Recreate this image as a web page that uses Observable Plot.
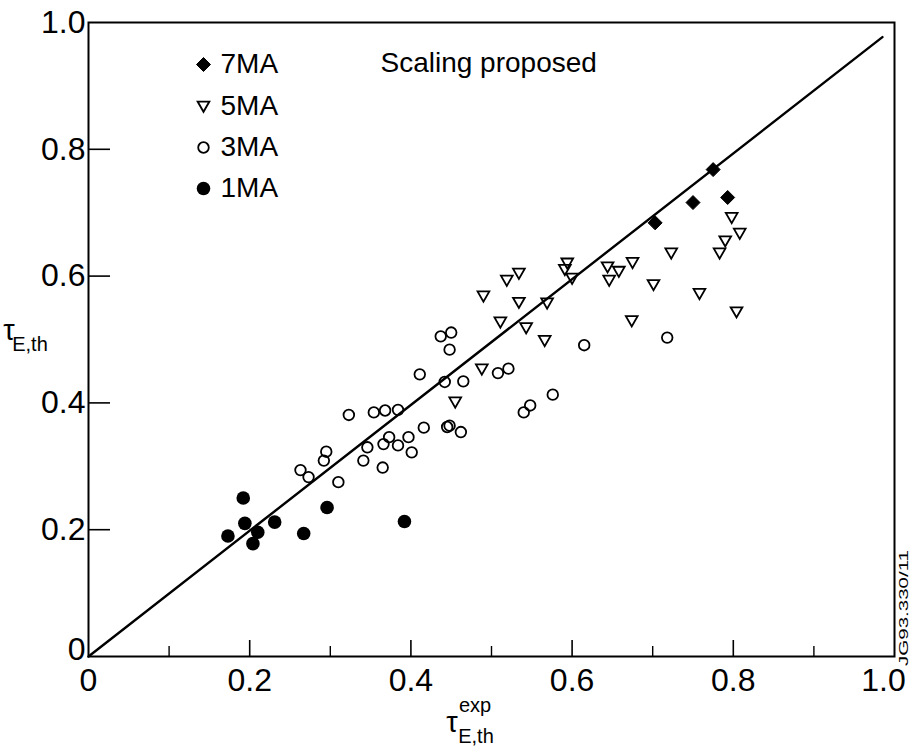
<!DOCTYPE html>
<html><head><meta charset="utf-8">
<script src="https://cdn.jsdelivr.net/npm/d3@7"></script>
<script src="https://cdn.jsdelivr.net/npm/@observablehq/plot@0.6"></script>
<style>
body{margin:0;background:#fff}
#chart{width:910px;height:748px}
</style>
</head><body><div id="chart"></div>
<script>
// ---- data ----
const seriesNames = ["7MA", "5MA", "3MA", "1MA"];
const titleText = "Scaling proposed";
const ma7 = [[0.703,0.684],[0.750,0.716],[0.775,0.768],[0.793,0.724]];
const ma5 = [[0.455,0.401],[0.488,0.453],[0.490,0.568],[0.511,0.527],[0.519,0.593],[0.534,0.604],[0.534,0.558],[0.543,0.518],[0.566,0.498],[0.569,0.557],[0.591,0.610],[0.594,0.620],[0.600,0.596],[0.644,0.614],[0.646,0.593],[0.658,0.607],[0.675,0.621],[0.674,0.529],[0.701,0.586],[0.723,0.636],[0.758,0.572],[0.783,0.636],[0.790,0.655],[0.798,0.692],[0.808,0.667],[0.804,0.543]];
const ma3 = [[0.263,0.294],[0.273,0.283],[0.292,0.309],[0.295,0.323],[0.310,0.275],[0.323,0.381],[0.341,0.309],[0.346,0.330],[0.354,0.385],[0.365,0.298],[0.366,0.335],[0.368,0.388],[0.373,0.346],[0.384,0.389],[0.384,0.333],[0.397,0.346],[0.401,0.322],[0.411,0.445],[0.416,0.361],[0.437,0.505],[0.450,0.511],[0.448,0.484],[0.442,0.433],[0.445,0.362],[0.448,0.364],[0.462,0.354],[0.465,0.434],[0.508,0.447],[0.521,0.454],[0.540,0.385],[0.548,0.396],[0.576,0.413],[0.615,0.491],[0.718,0.503]];
const ma1 = [[0.192,0.250],[0.194,0.210],[0.173,0.190],[0.210,0.196],[0.204,0.178],[0.231,0.212],[0.267,0.194],[0.296,0.235],[0.392,0.213]];
const fitLine = [[0,0],[0.985,0.977]];
const xTickValues = [0, 0.2, 0.4, 0.6, 0.8, 1.0];
const xTickLabels = ["0", "0.2", "0.4", "0.6", "0.8", "1.0"];
const xMinorTicks = [0.1, 0.3, 0.5, 0.7, 0.9];
const yTickValues = [0, 0.2, 0.4, 0.6, 0.8, 1.0];
const yTickLabels = ["0", "0.2", "0.4", "0.6", "0.8", "1.0"];
const stampText = "JG93.330/11";

// ---- layout ----
const W = 910, H = 748, mL = 88, mR = 16, mT = 22, mB = 92;
const pw = W - mL - mR, ph = H - mT - mB;
const FONT = "'Liberation Sans', Arial, Helvetica, sans-serif";

const diamondSym = {draw(ctx, size){ const r = Math.sqrt(size/Math.PI);
  ctx.moveTo(0,-r); ctx.lineTo(r,0); ctx.lineTo(0,r); ctx.lineTo(-r,0); ctx.closePath(); }};
const downTri = {draw(ctx, size){ const r = Math.sqrt(size/Math.PI);
  ctx.moveTo(-r*1.05,-r*0.88); ctx.lineTo(r*1.05,-r*0.88); ctx.lineTo(0,r*0.95); ctx.closePath(); }};

const lab = (vals, labels) => d => labels[vals.findIndex(v => Math.abs(v - d) < 1e-9)];
const fmtX = lab(xTickValues, xTickLabels);
const fmtY = lab(yTickValues, yTickLabels);

const legendRows = [42, 84, 125, 166];
const legendSyms = [
  {symbol: diamondSym, r: 7, fill: "black", stroke: "black", strokeWidth: 1},
  {symbol: downTri, r: 5.6, fill: "none", stroke: "black", strokeWidth: 1.8},
  {symbol: "circle", r: 5.3, fill: "none", stroke: "black", strokeWidth: 1.8},
  {symbol: "circle", r: 6.8, fill: "black", stroke: "none"}
];

const xFirst = xTickValues.slice(0, -1), xLast = xTickValues.slice(-1);
const yFirst = yTickValues.slice(0, 1), yRest = yTickValues.slice(1);

const marks = [
  Plot.ruleX(xTickValues.slice(1, -1), {x: d => d, y1: 0, y2: 16/ph, strokeWidth: 1.6}),
  Plot.ruleX(xMinorTicks, {x: d => d, y1: 0, y2: 10/ph, strokeWidth: 1.4}),
  Plot.ruleY(yTickValues.slice(1, -1), {y: d => d, x1: 0, x2: 22/pw, strokeWidth: 1.6}),
  Plot.frame({stroke: "black", strokeWidth: 2}),
  Plot.line(fitLine, {x: d => d[0], y: d => d[1], stroke: "black", strokeWidth: 2.4}),
  Plot.dot(ma3, {x: d => d[0], y: d => d[1], symbol: "circle", r: 5.3, fill: "none", stroke: "black", strokeWidth: 1.8}),
  Plot.dot(ma5, {x: d => d[0], y: d => d[1], symbol: downTri, r: 5.6, fill: "none", stroke: "black", strokeWidth: 1.8}),
  Plot.dot(ma1, {x: d => d[0], y: d => d[1], symbol: "circle", r: 6.8, fill: "black", stroke: "none"}),
  Plot.dot(ma7, {x: d => d[0], y: d => d[1], symbol: diamondSym, r: 7, fill: "black", stroke: "black", strokeWidth: 1}),
  Plot.axisX({ticks: xFirst, tickSize: 0, tickPadding: 12, tickFormat: fmtX, label: null, fontSize: 32}),
  Plot.axisX({ticks: xLast, tickSize: 0, tickPadding: 12, tickFormat: fmtX, label: null, fontSize: 32, dx: -11}),
  Plot.axisY({ticks: yRest, tickSize: 0, tickPadding: 3, tickFormat: fmtY, label: null, fontSize: 32}),
  Plot.axisY({ticks: yFirst, tickSize: 0, tickPadding: 3, tickFormat: fmtY, label: null, fontSize: 32, dy: -7}),
  Plot.text([titleText], {text: d => d, frameAnchor: "top-left", dx: 292, dy: 41, textAnchor: "start", lineAnchor: "middle", fontSize: 28, fill: "black"})
];
seriesNames.forEach((name, i) => {
  marks.push(Plot.dot([name], {frameAnchor: "top-left", dx: 115, dy: legendRows[i], ...legendSyms[i]}));
  marks.push(Plot.text([name], {text: d => d, frameAnchor: "top-left", dx: 132, dy: legendRows[i], textAnchor: "start", lineAnchor: "middle", fontSize: 28, fill: "black"}));
});

const chart = Plot.plot({
  width: W, height: H,
  marginLeft: mL, marginRight: mR, marginTop: mT, marginBottom: mB,
  x: {domain: [0, 1]},
  y: {domain: [0, 1]},
  style: {fontFamily: FONT, color: "black", background: "white", overflow: "visible"},
  marks
});
document.getElementById("chart").appendChild(chart);

// axis titles (rich text) and stamp
const svg = d3.select(chart);
const g = svg.append("g").attr("font-family", FONT).attr("fill", "black");
// y title
g.append("text").attr("x", 9).attr("y", 340).attr("font-size", 29).text("τ");
g.append("text").attr("x", 30).attr("y", 351).attr("font-size", 20).text("E,th");
// x title
g.append("text").attr("x", 452).attr("y", 732).attr("font-size", 29).text("τ");
g.append("text").attr("x", 475).attr("y", 712).attr("font-size", 20).text("exp");
g.append("text").attr("x", 476).attr("y", 743).attr("font-size", 20).text("E,th");
// stamp
g.append("text").attr("transform", "translate(908,608) rotate(-90)")
  .attr("text-anchor", "middle").attr("font-size", 13)
  .attr("textLength", 116).attr("lengthAdjust", "spacingAndGlyphs").text(stampText);
</script>
</body></html>
